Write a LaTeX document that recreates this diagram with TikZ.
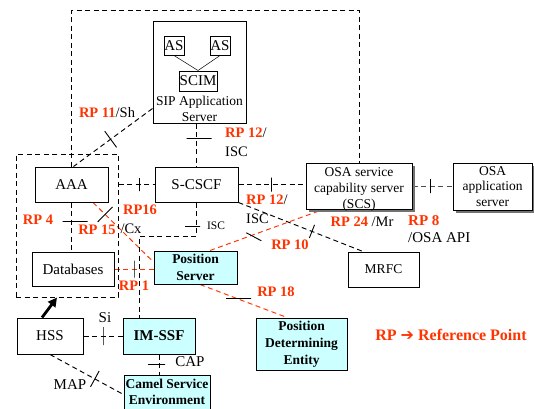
\documentclass[tikz,border=0pt]{standalone}
\usepackage{fontspec}
\setmainfont{Liberation Serif}
\newfontfamily\arrowfont{DejaVu Sans}
\usetikzlibrary{arrows.meta,shadows,backgrounds}
\definecolor{rpred}{RGB}{255,51,0}
\definecolor{paleblue}{RGB}{204,255,255}
\newcommand\fz[2]{\fontsize{#1}{#2}\selectfont}
\newcommand\rpmark[1]{\textcolor{rpred}{\textbf{#1}}}

\begin{document}
\begin{tikzpicture}[x=1pt,y=-1pt,
  plain/.style={draw, line width=1pt, fill=white, inner sep=0pt, align=center, font=\fz{15}{17}},
  tinted/.style={plain, fill=paleblue, font=\bfseries\fz{13.5}{17}},
  shadowed/.style={drop shadow={shadow xshift=2.5pt, shadow yshift=-2.5pt, fill=black!55, opacity=1}},
  grp/.style={draw, line width=1pt, dash pattern=on 5pt off 3.5pt, inner sep=0pt},
  link/.style={line width=0.95pt, dash pattern=on 5pt off 3.5pt},
  rlink/.style={link, draw=rpred},
  tick/.style={draw=black, solid, line width=0.9pt, minimum width=0pt, minimum height=#1, inner sep=0pt, outer sep=0pt},
  htick/.style={draw=black, solid, line width=0.9pt, minimum width=#1, minimum height=0pt, inner sep=0pt, outer sep=0pt},
  lbl/.style={inner sep=0pt, font=\fz{14.5}{19}},
]
\clip (0,0) rectangle (534,408);
\useasboundingbox (0,0) rectangle (534,408);

% ---- grouping of AAA and databases
\node[grp, minimum width=102pt, minimum height=143pt] (core) at (67,225.5) {};

% ---- boxes
\node[plain, minimum width=93pt, minimum height=102pt] (sip) at (199.5,72) {};
\node[plain, minimum width=20pt, minimum height=19pt] (asl) at (174,45.5) {AS};
\node[plain, minimum width=20pt, minimum height=19pt] (asr) at (220,45.5) {AS};
\node[plain, minimum width=38pt, minimum height=20pt] (scim) at (198,81) {SCIM};
\node[inner sep=0pt, align=center, font=\fz{13.5}{16}] (siptext) at (199.5,109) {SIP Application\\Server};
\draw[line width=0.5pt] (asl.south) -- (scim.north);
\draw[line width=0.5pt] (asr.south) -- (scim.north);

\node[plain, minimum width=73pt, minimum height=35pt] (aaa) at (71.5,184.5) {AAA};
\node[plain, minimum width=83pt, minimum height=35pt] (scscf) at (196.5,184.5) {S-CSCF};
\node[plain, minimum width=82pt, minimum height=34pt] (db) at (73,269) {Databases};
\node[tinted, minimum width=83pt, minimum height=33pt] (pos) at (195.5,267.5) {Position\\Server};
\node[plain, minimum width=66pt, minimum height=36pt] (hss) at (50,336) {HSS};
\node[tinted, font=\bfseries\fz{15}{17}, minimum width=72pt, minimum height=36pt] (imssf) at (159,336) {IM-SSF};
\node[tinted, minimum width=86pt, minimum height=39pt] (camel) at (167,394.5) {};
\node[inner sep=0pt, align=center, font=\bfseries\fz{13.5}{16.5}] (cameltext) at (167,392) {Camel Service\\Environment};
\node[plain, shadowed, minimum width=106pt, minimum height=46pt] (scs) at (359,186) {};
\node[inner sep=0pt, align=center, font=\fz{13.5}{16}] (scstext) at (359,189) {OSA service\\capability server\\(SCS)};
\node[plain, shadowed, font=\fz{13.5}{15.5}, minimum width=79pt, minimum height=47pt] (osa) at (492.5,186.5) {OSA\\application\\server};
\node[plain, font=\fz{13.5}{16}, minimum width=71pt, minimum height=35pt] (mrfc) at (383.5,269.5) {MRFC};
\node[tinted, minimum width=91pt, minimum height=52pt] (pde) at (301.5,344) {Position\\Determining\\Entity};

% ---- connectors (drawn behind the boxes)
\begin{pgfonlayer}{background}
\coordinate (ceiling) at (200,10);
\draw[link] (aaa.north) |- (ceiling) -| (scs.north);
\draw[link] ([yshift=15pt]sip.south west) -- node[tick=20pt, sloped, pos=0.53]{} ([xshift=2pt]aaa.north);
\draw[link] (sip.south -| scscf.north) -- node[htick=25pt, pos=0.34, xshift=2.5pt]{} (scscf.north);
\draw[link] (core.east |- aaa.east) -- node[tick=13pt, pos=0.57]{} (scscf.west);
\draw[link] (aaa.south) -- node[htick=25pt, pos=0.38, xshift=3.5pt]{} (aaa.south |- db.north);
\draw[rlink] ([xshift=21.5pt]aaa.south) -- node[tick=21pt, sloped, pos=0.2]{} ([yshift=5.5pt]pos.west);
\draw[rlink] (db.east) -- node[tick=17pt, pos=0.5]{} (db.east -| pos.west);
\coordinate (iscbend) at (139,236);
\draw[link] (scscf.south) |- node[htick=15pt, pos=0.35, xshift=-4pt]{} (iscbend) -- (iscbend |- imssf.north);
\draw[link] (hss.east) -- node[tick=18pt, pos=0.5]{} (imssf.west);
\draw[link] (imssf.south) -- node[htick=17pt, pos=0.48, xshift=-2.5pt]{} (imssf.south |- camel.north);
\draw[link] (hss.south) -- node[tick=18pt, sloped, pos=0.61]{} (camel.west);
\draw[link] (scscf.east) -- node[tick=14pt, pos=0.49]{} (scscf.east -| scs.west);
\draw[link, draw=black!70] (scs.east) -- node[tick=14pt, pos=0.44]{} (scs.east -| osa.west);
\draw[link] (scscf.south east) -- node[tick=14pt, sloped, pos=0.59]{} ([xshift=-20.5pt]mrfc.north);
\draw[rlink] ([xshift=14.5pt]pos.north) -- node[htick=17pt, rotate=-28, pos=0.4, yshift=-3pt]{} ([xshift=-36pt]scs.south);
\draw[rlink] ([xshift=4.5pt]pos.south) -- node[htick=25pt, pos=0.42, xshift=2pt]{} ([xshift=-14.5pt]pde.north);
\end{pgfonlayer}

\draw[line width=2.8pt, -{Triangle[length=9pt,width=9pt]}] ([xshift=-8pt]hss.north) -- ([xshift=-10pt]core.south);

% ---- reference point labels
\node[lbl] (l11) at (107,113) {\rpmark{RP 11}/Sh};
\node[lbl, anchor=west, align=left] (l12a) at (225,142) {\rpmark{RP 12}/\\ISC};
\node[lbl] (l4) at (38,220) {\rpmark{RP 4}};
\node[lbl] (l15) at (97,230) {\rpmark{RP 15}};
\node[lbl] (l16) at (140,210) {\rpmark{RP16}};
\node[lbl] (lcx) at (131,229) {/Cx};
\node[lbl] (l1) at (134,286) {\rpmark{RP 1}};
\node[lbl, font=\fz{11.5}{13}] (lisc) at (216,226) {ISC};
\node[lbl, anchor=west, align=left] (l12b) at (246,209) {\rpmark{RP 12}/\\ISC};
\node[lbl] (l10) at (290,245) {\rpmark{RP 10}};
\node[lbl] (l24) at (362,222) {\rpmark{RP 24} /Mr};
\node[lbl, anchor=west, align=left, font=\fz{15}{17}] (l8) at (408,229) {\rpmark{RP 8}\\/OSA API};
\node[lbl] (l18) at (276,292) {\rpmark{RP 18}};
\node[lbl, font=\fz{15}{17}] (lsi) at (105,318) {Si};
\node[lbl, font=\fz{15}{17}] (lcap) at (190,362) {CAP};
\node[lbl, font=\fz{15}{17}] (lmap) at (70,385) {MAP};
\node[lbl, font=\bfseries\fz{16}{18}, text=rpred] (legend) at (451,335) {RP {\arrowfont ➔} Reference Point};
\end{tikzpicture}
\end{document}
